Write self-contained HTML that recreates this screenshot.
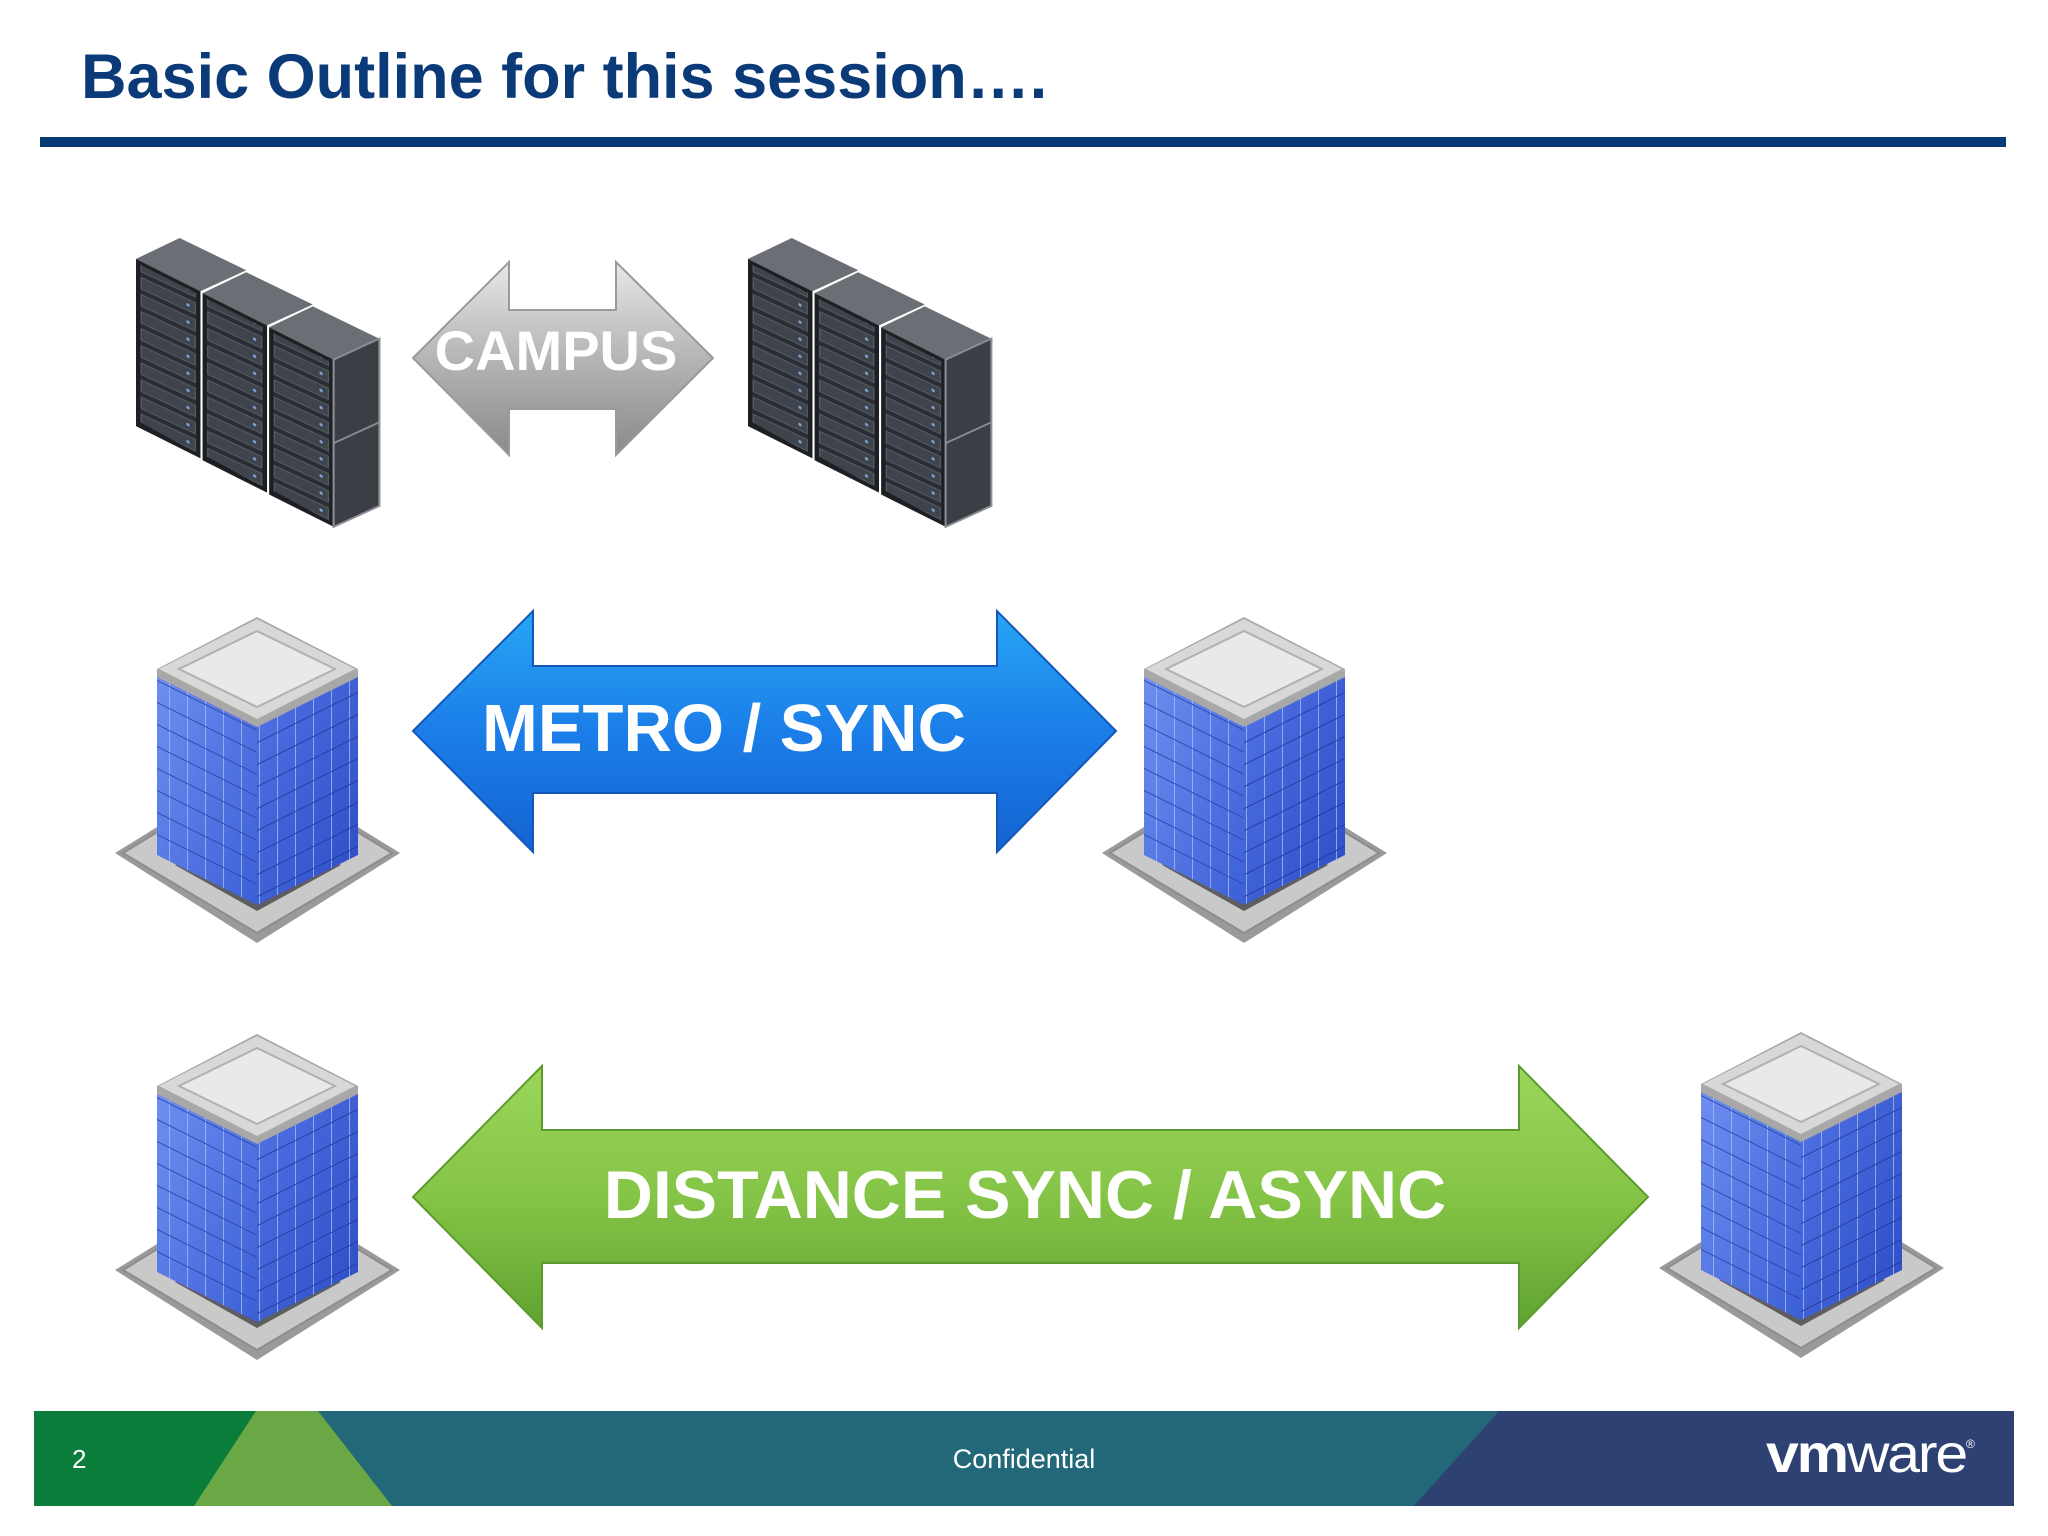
<!DOCTYPE html>
<html><head><meta charset="utf-8"><style>
html,body{margin:0;padding:0;background:#fff;}
svg{display:block;}
</style></head><body>
<svg width="2048" height="1536" viewBox="0 0 2048 1536" xmlns="http://www.w3.org/2000/svg" font-family="Liberation Sans, Arial, sans-serif">
<defs>
  <linearGradient id="gGray" x1="0" y1="0" x2="0" y2="1">
    <stop offset="0" stop-color="#e8e8e8"/><stop offset="0.5" stop-color="#b5b5b5"/><stop offset="1" stop-color="#8a8a8a"/>
  </linearGradient>
  <linearGradient id="gBlue" x1="0" y1="0" x2="0" y2="1">
    <stop offset="0" stop-color="#27a6f5"/><stop offset="0.5" stop-color="#1b7ee8"/><stop offset="1" stop-color="#1463d0"/>
  </linearGradient>
  <linearGradient id="gGreen" x1="0" y1="0" x2="0" y2="1">
    <stop offset="0" stop-color="#9bd65a"/><stop offset="0.5" stop-color="#84c446"/><stop offset="1" stop-color="#5fa230"/>
  </linearGradient>
  <linearGradient id="gLeftFace" x1="0" y1="0" x2="1" y2="1">
    <stop offset="0" stop-color="#6f8ff0"/><stop offset="1" stop-color="#3c5fd6"/>
  </linearGradient>
  <linearGradient id="gRightFace" x1="0" y1="0" x2="1" y2="1">
    <stop offset="0" stop-color="#5274e6"/><stop offset="1" stop-color="#2c4cc4"/>
  </linearGradient>
  <pattern id="winL" width="18" height="22" patternUnits="userSpaceOnUse" patternTransform="skewY(26.5)">
    <rect width="18" height="22" fill="none"/>
    <line x1="0" y1="0" x2="0" y2="22" stroke="#a9bbf5" stroke-width="1.5"/>
    <line x1="0" y1="0" x2="18" y2="0" stroke="#2a46b0" stroke-width="2"/>
  </pattern>
  <pattern id="winR" width="18" height="22" patternUnits="userSpaceOnUse" patternTransform="skewY(-26.5)">
    <rect width="18" height="22" fill="none"/>
    <line x1="0" y1="0" x2="0" y2="22" stroke="#a9bbf5" stroke-width="1.5"/>
    <line x1="0" y1="0" x2="18" y2="0" stroke="#223c9e" stroke-width="2"/>
  </pattern>
  <pattern id="slots" width="62" height="18" patternUnits="userSpaceOnUse" patternTransform="skewY(27)">
    <rect width="62" height="18" fill="#2a2d33"/>
    <rect x="5" y="3" width="52" height="12" fill="#3f444c" stroke="#5a6069" stroke-width="1"/>
    <circle cx="50" cy="9" r="1.6" fill="#7fa4d8"/>
  </pattern>
  <g id="bldg">
    <polygon points="0,238 142,150 285,238 142,328" fill="#9a9a9a"/>
    <polygon points="8,238 142,156 277,238 142,318" fill="#c9c9c9" stroke="#8d8d8d" stroke-width="2"/>
    <polygon points="60,250 142,204 226,250 142,296" fill="#5e5e5e"/>
    <polygon points="42,54 142,104 142,290 42,240" fill="url(#gLeftFace)"/>
    <polygon points="42,54 142,104 142,290 42,240" fill="url(#winL)"/>
    <polygon points="142,104 243,54 243,240 142,290" fill="url(#gRightFace)"/>
    <polygon points="142,104 243,54 243,240 142,290" fill="url(#winR)"/>
    <polygon points="142,2 243,54 243,62 142,112 42,62 42,54" fill="#a8a8a8"/>
    <polygon points="142,4 240,54 142,104 44,54" fill="#d8d8d8"/>
    <polygon points="142,16 220,54 142,92 64,54" fill="#e9e9e9" stroke="#b0b0b0" stroke-width="2"/>
  </g>
  <g id="rack">
    <polygon points="0,22 42,0 106,34 62,56" fill="#6b6e74"/>
    <polygon points="0,22 62,56 62,232 0,198" fill="#1d1f23"/>
    <polygon points="4,28 58,58 58,226 4,194" fill="url(#slots)"/>
  </g>
  <g id="rackgrp">
    <use href="#rack" x="0" y="0"/>
    <use href="#rack" x="64" y="36"/>
    <use href="#rack" x="128" y="72"/>
    <polygon points="190,128 234,106 234,282 190,304" fill="#3b3e45" stroke="#8a8d93" stroke-width="2"/>
    <line x1="190" y1="216" x2="234" y2="194" stroke="#8a8d93" stroke-width="2"/>
  </g>
</defs>

<!-- Title -->
<text x="81" y="98" font-size="63" font-weight="bold" fill="#0b3a78">Basic Outline for this session….</text>
<rect x="40" y="137" width="1966" height="10" fill="#063a74"/>

<!-- Row 1: racks & CAMPUS -->
<g transform="translate(136,238) scale(1.04,0.95)"><use href="#rackgrp"/></g>
<g transform="translate(748,238) scale(1.04,0.95)"><use href="#rackgrp"/></g>
<polygon points="413,358 509,262 509,310 616,310 616,262 713,358 616,455 616,409 509,409 509,455" fill="url(#gGray)" stroke="#9a9a9a" stroke-width="2"/>
<text x="556" y="370" font-size="56" font-weight="bold" fill="#fff" text-anchor="middle">CAMPUS</text>

<!-- Row 2 -->
<use href="#bldg" x="115" y="615"/>
<use href="#bldg" x="1102" y="615"/>
<polygon points="413,731 533,611 533,666 997,666 997,611 1116,731 997,852 997,793 533,793 533,852" fill="url(#gBlue)" stroke="#1557b8" stroke-width="2"/>
<text x="724" y="751" font-size="67" font-weight="bold" fill="#fff" text-anchor="middle">METRO / SYNC</text>

<!-- Row 3 -->
<use href="#bldg" x="115" y="1032"/>
<use href="#bldg" x="1659" y="1030"/>
<polygon points="413,1197 542,1066 542,1130 1519,1130 1519,1066 1648,1197 1519,1328 1519,1263 542,1263 542,1328" fill="url(#gGreen)" stroke="#5c9b2e" stroke-width="2"/>
<text x="1025" y="1218" font-size="68" font-weight="bold" fill="#fff" text-anchor="middle">DISTANCE SYNC / ASYNC</text>

<!-- Footer -->
<rect x="34" y="1411" width="1980" height="95" fill="#236878"/>
<polygon points="34,1411 256,1411 194,1506 34,1506" fill="#0b7d3a"/>
<polygon points="256,1411 318,1411 392,1506 194,1506" fill="#69a845"/>
<polygon points="1499,1411 2014,1411 2014,1506 1414,1506" fill="#2e4173"/>
<text x="72" y="1468" font-size="26" fill="#fff">2</text>
<text x="1024" y="1468" font-size="27" fill="#fff" text-anchor="middle">Confidential</text>
<text x="1766" y="1472" font-size="54" font-weight="bold" fill="#fff" letter-spacing="-2" textLength="200" lengthAdjust="spacingAndGlyphs">vm<tspan font-weight="normal">ware</tspan></text>
<text x="1966" y="1448" font-size="12" fill="#fff">®</text>
</svg>
</body></html>
